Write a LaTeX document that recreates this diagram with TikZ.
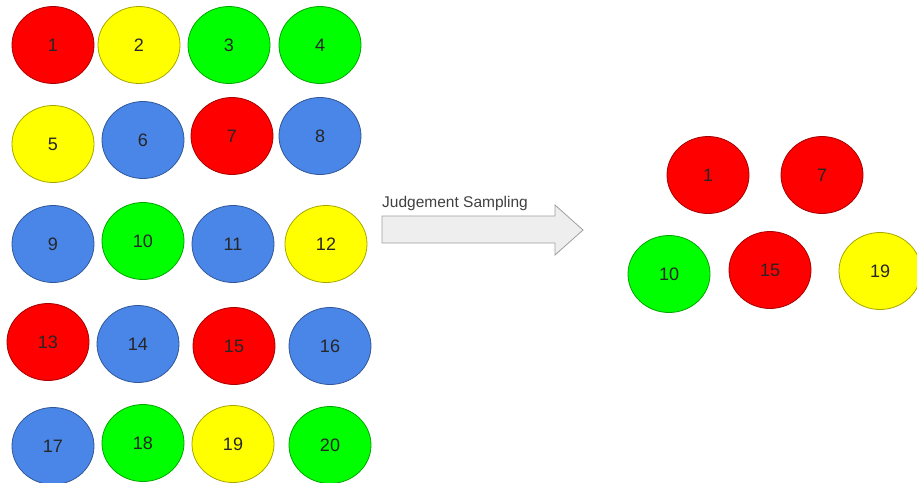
\documentclass[tikz,border=0pt]{standalone}
\usepackage{fontspec}
\setmainfont{Liberation Sans}
\usepackage{tikz}
\usetikzlibrary{shapes.geometric}
\usepackage{xcolor}
\definecolor{ballred}{HTML}{FF0000}
\definecolor{ballyellow}{HTML}{FFFF00}
\definecolor{ballgreen}{HTML}{00FF00}
\definecolor{ballblue}{HTML}{4A86E8}
\definecolor{arrowfill}{HTML}{EEEEEE}

\tikzset{
  ball/.style={ellipse, draw=#1!65!black, fill=#1, line width=0.8pt,
    minimum width=82pt, minimum height=77pt, inner sep=0pt,
    text=black!85, font=\fontsize{18}{18}\selectfont},
}

\begin{document}
\begin{tikzpicture}[x=1pt,y=-1pt]
\useasboundingbox (0,0) rectangle (917,482);
% the whole population
\foreach \n/\x/\y/\c in {
  1/53/45/ballred, 2/139/45/ballyellow, 3/229/45/ballgreen, 4/320/45/ballgreen,
  5/53/144/ballyellow, 6/143/140/ballblue, 7/232/136/ballred, 8/320/136/ballblue,
  9/53/244/ballblue, 10/143/241/ballgreen, 11/233/244/ballblue, 12/326/244/ballyellow,
  13/48/342/ballred, 14/138/344/ballblue, 15/234/346/ballred, 16/330/346/ballblue,
  17/53/446/ballblue, 18/143/443/ballgreen, 19/233/444/ballyellow, 20/330/445/ballgreen}
  \node[ball=\c] (p\n) at (\x,\y) {\n};
% the chosen ones
\foreach \n/\x/\y/\c in {
  1/708/175/ballred, 7/822/175/ballred,
  10/669/274/ballgreen, 15/770/270/ballred, 19/880/271/ballyellow}
  \node[ball=\c] (s\n) at (\x,\y) {\n};
\draw[gray!75, fill=arrowfill, line width=0.8pt]
  (382,216) -- (555,216) -- (555,205) -- (583,230)
  -- (555,255) -- (555,243) -- (382,243) -- cycle;
\node[anchor=base west, inner sep=0pt, text=black!75,
  font=\fontsize{15.5}{15.5}\selectfont] (method) at (382,207) {Judgement Sampling};
\end{tikzpicture}
\end{document}
